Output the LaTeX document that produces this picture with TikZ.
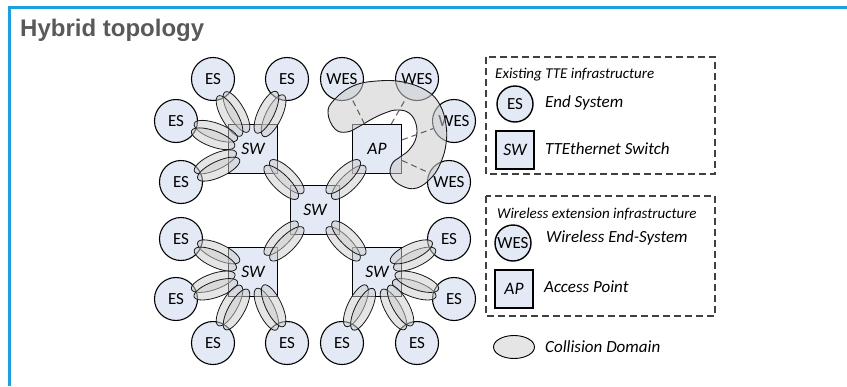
\documentclass[tikz,border=0pt]{standalone}
\usepackage{fontspec}
\setmainfont{Carlito}
\newfontfamily\titlefont{Liberation Sans}
\usepackage{xcolor}
\usetikzlibrary{calc, shapes.geometric, positioning}

\definecolor{nodefill}{RGB}{228,234,245}
\definecolor{frameblue}{RGB}{28,160,222}
\definecolor{titlegray}{RGB}{89,89,89}

\newcommand{\cdom}[2]{%
  \path let \p1=(#1), \p2=(#2), \n1={atan2(\y2-\y1,\x2-\x1)} in
    ($(#1)!0.5!(#2)$) coordinate (cdm)
    \pgfextra{\pgfmathsetmacro\cdang{\n1}\global\let\cdang\cdang};
  \begin{scope}[shift={(cdm)}, rotate=\cdang]
    \draw[cd] (0pt,4pt) ellipse [x radius=23pt, y radius=8pt];
    \draw[cd] (0pt,-4pt) ellipse [x radius=23pt, y radius=8pt];
  \end{scope}}

\begin{document}
\begin{tikzpicture}[
        x=1pt, y=-1pt,
        es/.style={
            circle,
            draw=black,
            line width=1.1pt,
            fill=nodefill,
            minimum size=43pt,
            inner sep=0pt,
            font=\fontsize{17}{19}\selectfont
        },
        sw/.style={
            rectangle,
            draw=black,
            line width=1.1pt,
            fill=nodefill,
            minimum size=49pt,
            inner sep=0pt,
            font=\itshape\fontsize{17.5}{19}\selectfont
        },
        cd/.style={draw=black!90, line width=0.8pt, fill=black!20, fill opacity=0.5},
        blob/.style={draw=black!90, line width=0.9pt, fill=black!20, fill opacity=0.55},
        wl/.style={draw=black!65, line width=1pt, dash pattern=on 6pt off 4pt},
        legbox/.style={draw=black!75, line width=1.1pt, dash pattern=on 7pt off 4pt},
        lhead/.style={anchor=base west, inner sep=0pt, font=\itshape\fontsize{15}{17}\selectfont},
        lbl/.style={anchor=base west, inner sep=0pt, font=\itshape\fontsize{17}{19}\selectfont}
    ]

        \useasboundingbox (0,0) rectangle (847,386);
        \draw[frameblue, line width=2.6pt] (9.5,386) -- (9.5,7.5) -- (847,7.5);

        \node[anchor=base west, inner sep=0pt, text=titlegray,
              font=\titlefont\bfseries\fontsize{24}{28}\selectfont] (title) at (20,36) {Hybrid topology};

        \node[sw] (sw1) at (253,149) {SW};
        \node[sw] (ap)  at (377,149) {AP};
        \node[sw] (swc) at (315,210) {SW};
        \node[sw] (sw2) at (253,272) {SW};
        \node[sw] (sw3) at (377,272) {SW};

        \node[es] (es1)  at (213,79)  {ES};
        \node[es] (es2)  at (287,79)  {ES};
        \node[es] (es3)  at (176,121) {ES};
        \node[es] (es4)  at (181,182) {ES};

        \node[es] (wes1) at (342,79)  {WES};
        \node[es] (wes2) at (417,79)  {WES};
        \node[es] (wes3) at (454,121) {WES};
        \node[es] (wes4) at (449,182) {WES};

        \node[es] (es5)  at (181,239) {ES};
        \node[es] (es6)  at (176,299) {ES};
        \node[es] (es7)  at (213,343) {ES};
        \node[es] (es8)  at (287,343) {ES};

        \node[es] (es9)  at (449,239) {ES};
        \node[es] (es10) at (454,299) {ES};
        \node[es] (es11) at (417,343) {ES};
        \node[es] (es12) at (342,343) {ES};

        \cdom{es1}{sw1}
        \cdom{es2}{sw1}
        \cdom{es3}{sw1}
        \cdom{es4}{sw1}

        \cdom{sw1}{swc}
        \cdom{ap}{swc}
        \cdom{sw2}{swc}
        \cdom{sw3}{swc}

        \cdom{es5}{sw2}
        \cdom{es6}{sw2}
        \cdom{es7}{sw2}
        \cdom{es8}{sw2}

        \cdom{es9}{sw3}
        \cdom{es10}{sw3}
        \cdom{es11}{sw3}
        \cdom{es12}{sw3}

        \draw[blob] plot[smooth cycle, tension=0.7] coordinates {
            (328,113) (334,100) (353,86) (377,81) (403,82) (427,91) (440,105)
            (446,125) (446,144) (441,162) (432,177) (417,188) (402,186)
            (391,176) (392,164) (400,157) (409,150) (416,138) (416,124)
            (409,113) (397,110) (385,113) (372,119) (360,126) (347,132)
            (335,129)};

        \draw[wl] (ap) -- (wes1);
        \draw[wl] (ap) -- (wes2);
        \draw[wl] (ap) -- (wes3);
        \draw[wl] (ap) -- (wes4);

        \draw[legbox] (486,57) rectangle (715,174);
        \node[lhead] (h1) at (495,78) {Existing TTE infrastructure};
        \node[es, minimum size=36pt, line width=1.4pt] (les) at (515,104) {ES};
        \node[lbl] (tes) at (545,107) {End System};
        \node[sw, minimum size=38pt, line width=1.8pt] (lsw) at (515,150) {SW};
        \node[lbl] (tsw) at (545,154) {TTEthernet Switch};

        \draw[legbox] (486,196) rectangle (715,316);
        \node[lhead] (h2) at (497,218) {Wireless extension infrastructure};
        \node[es, minimum size=36pt, line width=1.4pt] (lwes) at (513,243) {WES};
        \node[lbl] (twes) at (546,242) {Wireless End-System};
        \node[sw, minimum size=38pt, line width=1.4pt] (lap) at (514,289) {AP};
        \node[lbl] (tap) at (544,292) {Access Point};

        \node[ellipse, draw=black, line width=0.9pt, fill=black!10,
              minimum width=41pt, minimum height=23pt, inner sep=0pt] (lcd) at (514,347) {};
        \node[lbl] (tcd) at (545,352) {Collision Domain};

    \end{tikzpicture}
\end{document}
